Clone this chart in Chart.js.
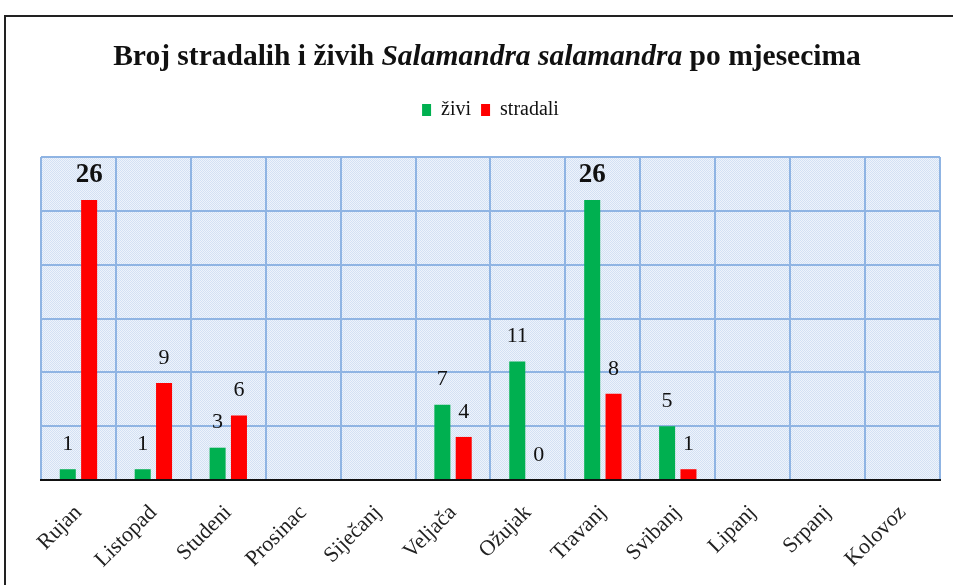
<!DOCTYPE html>
<html>
<head>
<meta charset="utf-8">
<script src="https://cdn.jsdelivr.net/npm/chart.js@4/dist/chart.umd.min.js"></script>
<style>
  html, body { margin: 0; padding: 0; background: #fff; }
  #wrap { width: 953px; height: 585px; position: relative; }
</style>
</head>
<body>
<div id="wrap"><canvas id="myChart"></canvas></div>
<script>
var months = ["Rujan", "Listopad", "Studeni", "Prosinac", "Siječanj", "Veljača",
              "Ožujak", "Travanj", "Svibanj", "Lipanj", "Srpanj", "Kolovoz"];
var zivi = [1, 1, 3, null, null, 7, 11, 26, 5, null, null, null];
var stradali = [26, 9, 6, null, null, 4, 0, 8, 1, null, null, null];
var titleParts = [
    {text: "Broj stradalih i živih ", italic: false},
    {text: "Salamandra salamandra", italic: true},
    {text: " po mjesecima", italic: false}
];
var yTicks = [0, 5, 10, 15, 20, 25, 30];

var serif = "'Liberation Serif', 'Times New Roman', serif";
var gridBlue = "#8fb4e3";

// hatched light blue fill of the plot area
function makePattern(ctx){
    var p = document.createElement("canvas");
    p.width = 2; p.height = 2;
    var c = p.getContext("2d");
    c.fillStyle = "#eef3fb"; c.fillRect(0, 0, 2, 2);
    c.fillStyle = "#d3e1f4"; c.fillRect(0, 0, 1, 1); c.fillRect(1, 1, 1, 1);
    return ctx.createPattern(p, "repeat");
}

var framePlugin = {
    id: "frame",
    beforeLayout: function(chart){
        // push the plot area down under the legend
        var lg = chart.legend;
        if (lg && !lg._patched){
            var orig = lg.fit;
            lg.fit = function(){ orig.call(this); this.height = 67; };
            lg._patched = true;
        }
    },
    beforeDraw: function(chart){
        var ctx = chart.ctx, a = chart.chartArea;
        ctx.save();
        ctx.fillStyle = "#fff";
        ctx.fillRect(0, 0, chart.width, chart.height);
        ctx.strokeStyle = "#222";
        ctx.lineWidth = 2;
        ctx.strokeRect(5, 16, 1000, 1000);
        ctx.fillStyle = makePattern(ctx);
        ctx.fillRect(a.left, a.top, a.right - a.left, a.bottom - a.top);
        ctx.restore();
    },
    afterDraw: function(chart){
        // title with the species name in italics
        var ctx = chart.ctx;
        ctx.save();
        ctx.fillStyle = "#111";
        ctx.textBaseline = "alphabetic";
        var total = 0;
        titleParts.forEach(function(t){
            ctx.font = (t.italic ? "italic " : "") + "bold 29.5px " + serif;
            t.w = ctx.measureText(t.text).width;
            total += t.w;
        });
        var x = 487 - total / 2;
        titleParts.forEach(function(t){
            ctx.font = (t.italic ? "italic " : "") + "bold 29.5px " + serif;
            ctx.textAlign = "left";
            ctx.fillText(t.text, x, 65);
            x += t.w;
        });
        ctx.restore();
    },
    afterDatasetsDraw: function(chart){
        var ctx = chart.ctx;
        var max = Math.max.apply(null, zivi.concat(stradali).filter(function(v){ return v != null; }));
        ctx.save();
        ctx.textAlign = "center";
        ctx.textBaseline = "middle";
        ctx.fillStyle = "#111";
        chart.data.datasets.forEach(function(ds, di){
            var meta = chart.getDatasetMeta(di);
            meta.data.forEach(function(el, i){
                var v = ds.data[i];
                if (v == null) return;
                ctx.font = (v === max ? "bold 27px " : "22px ") + serif;
                ctx.fillText(String(v), el.x, el.y - 25);
            });
        });
        ctx.restore();
    }
};

var canvas = document.getElementById("myChart").getContext("2d");
var chart = new Chart(canvas, {
    type: "bar",
    data: {
        labels: months,
        datasets: [
            {label: "živi", data: zivi, backgroundColor: "#00b050",
             categoryPercentage: 0.57, barPercentage: 0.75},
            {label: "stradali", data: stradali, backgroundColor: "#ff0000",
             categoryPercentage: 0.57, barPercentage: 0.75}
        ]
    },
    options: {
        responsive: true,
        maintainAspectRatio: false,
        animation: false,
        layout: {padding: {top: 90, left: 41, right: 13, bottom: 0}},
        plugins: {
            title: {display: false},
            tooltip: {enabled: false},
            legend: {
                position: "top",
                labels: {
                    boxWidth: 9, boxHeight: 12, padding: 10, color: "#111",
                    font: {family: serif, size: 20}
                }
            }
        },
        scales: {
            x: {
                grid: {color: gridBlue, lineWidth: 2, drawTicks: false, offset: true},
                border: {color: "#111", width: 2},
                ticks: {
                    color: "#222", padding: 20, maxRotation: 45, minRotation: 45,
                    font: {family: serif, size: 22}
                },
                afterFit: function(s){ s.height = 105; }
            },
            y: {
                min: 0, max: 30,
                afterBuildTicks: function(s){ s.ticks = yTicks.map(function(v){ return {value: v}; }); },
                grid: {color: gridBlue, lineWidth: 2, drawTicks: false},
                border: {display: false},
                ticks: {display: false},
                afterFit: function(s){ s.width = 0; }
            }
        }
    },
    plugins: [framePlugin]
});
</script>
</body>
</html>
